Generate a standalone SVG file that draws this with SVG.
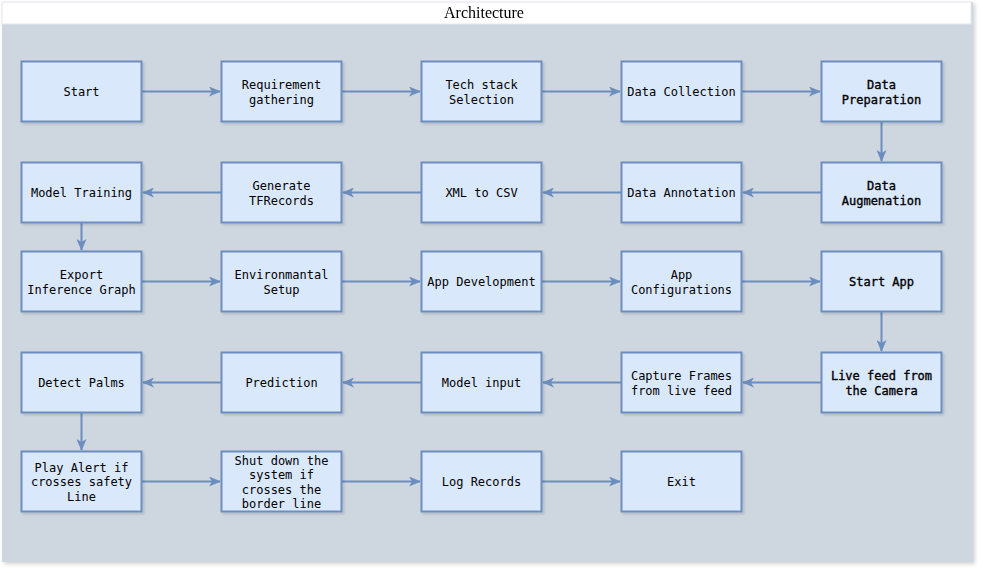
<svg xmlns="http://www.w3.org/2000/svg" width="983" height="573" viewBox="0 0 983 573">
<defs>
<filter id="sh" x="-5%" y="-5%" width="110%" height="110%">
<feGaussianBlur in="SourceAlpha" stdDeviation="2"/>
<feOffset dx="2" dy="2" result="b"/>
<feComponentTransfer><feFuncA type="linear" slope="0.18"/></feComponentTransfer>
<feMerge><feMergeNode/><feMergeNode in="SourceGraphic"/></feMerge>
</filter>
<filter id="bs" x="-10%" y="-10%" width="130%" height="130%">
<feGaussianBlur in="SourceAlpha" stdDeviation="1.2"/>
<feOffset dx="2" dy="2" result="b"/>
<feComponentTransfer><feFuncA type="linear" slope="0.12"/></feComponentTransfer>
<feMerge><feMergeNode/><feMergeNode in="SourceGraphic"/></feMerge>
</filter>
<marker id="ar" viewBox="0 0 12 10" refX="11" refY="5" markerWidth="12" markerHeight="10" markerUnits="userSpaceOnUse" orient="auto">
<path d="M0,0 L12,5 L0,10 L3,5 Z" fill="#6c8ebf"/>
</marker>
</defs>
<style>
.box{fill:#dae8fc;stroke:#6c8ebf;stroke-width:2;filter:url(#bs)}
.t{font-family:"DejaVu Sans Mono","Liberation Mono",monospace;font-size:12px;fill:#000;text-anchor:middle}
.b{stroke:#000;stroke-width:0.35}
.c{fill:none;stroke:#6c8ebf;stroke-width:2;marker-end:url(#ar)}
</style>
<g id="container" filter="url(#sh)">
<rect x="2" y="2" width="971" height="560" fill="#ced6df"/>
<rect x="2" y="2" width="969" height="22" fill="#ffffff" stroke="#e6e6ee" stroke-width="1"/>
<text x="484" y="18" font-family="Liberation Serif, serif" font-size="16" text-anchor="middle" fill="#000">Architecture</text>
</g>
<g id="connectors">
<line class="c" x1="142" y1="91.5" x2="220" y2="91.5"/>
<line class="c" x1="342" y1="91.5" x2="420" y2="91.5"/>
<line class="c" x1="542" y1="91.5" x2="620" y2="91.5"/>
<line class="c" x1="742" y1="91.5" x2="820" y2="91.5"/>
<line class="c" x1="881.5" y1="122" x2="881.5" y2="161"/>
<line class="c" x1="821" y1="192.5" x2="743" y2="192.5"/>
<line class="c" x1="621" y1="192.5" x2="543" y2="192.5"/>
<line class="c" x1="421" y1="192.5" x2="343" y2="192.5"/>
<line class="c" x1="221" y1="192.5" x2="143" y2="192.5"/>
<line class="c" x1="81.5" y1="223" x2="81.5" y2="250"/>
<line class="c" x1="142" y1="281.5" x2="220" y2="281.5"/>
<line class="c" x1="342" y1="281.5" x2="420" y2="281.5"/>
<line class="c" x1="542" y1="281.5" x2="620" y2="281.5"/>
<line class="c" x1="742" y1="281.5" x2="820" y2="281.5"/>
<line class="c" x1="881.5" y1="312" x2="881.5" y2="351"/>
<line class="c" x1="821" y1="382.5" x2="743" y2="382.5"/>
<line class="c" x1="621" y1="382.5" x2="543" y2="382.5"/>
<line class="c" x1="421" y1="382.5" x2="343" y2="382.5"/>
<line class="c" x1="221" y1="382.5" x2="143" y2="382.5"/>
<line class="c" x1="81.5" y1="413" x2="81.5" y2="450"/>
<line class="c" x1="142" y1="481.5" x2="220" y2="481.5"/>
<line class="c" x1="342" y1="481.5" x2="420" y2="481.5"/>
<line class="c" x1="542" y1="481.5" x2="620" y2="481.5"/>
</g>
<g id="n-start"><rect class="box" x="21.5" y="61.5" width="120" height="60"/><text class="t" x="81.5" y="96">Start</text></g>
<g id="n-req"><rect class="box" x="221.5" y="61.5" width="120" height="60"/><text class="t" x="281.5" y="89">Requirement</text><text class="t" x="281.5" y="104">gathering</text></g>
<g id="n-tech"><rect class="box" x="421.5" y="61.5" width="120" height="60"/><text class="t" x="481.5" y="89">Tech stack</text><text class="t" x="481.5" y="104">Selection</text></g>
<g id="n-collect"><rect class="box" x="621.5" y="61.5" width="120" height="60"/><text class="t" x="681.5" y="96">Data Collection</text></g>
<g id="n-prep"><rect class="box" x="821.5" y="61.5" width="120" height="60"/><text class="t b" x="881.5" y="89">Data</text><text class="t b" x="881.5" y="104">Preparation</text></g>
<g id="n-aug"><rect class="box" x="821.5" y="162.5" width="120" height="60"/><text class="t b" x="881.5" y="190">Data</text><text class="t b" x="881.5" y="205">Augmenation</text></g>
<g id="n-annot"><rect class="box" x="621.5" y="162.5" width="120" height="60"/><text class="t" x="681.5" y="197">Data Annotation</text></g>
<g id="n-xml"><rect class="box" x="421.5" y="162.5" width="120" height="60"/><text class="t" x="481.5" y="197">XML to CSV</text></g>
<g id="n-tfr"><rect class="box" x="221.5" y="162.5" width="120" height="60"/><text class="t" x="281.5" y="190">Generate</text><text class="t" x="281.5" y="205">TFRecords</text></g>
<g id="n-train"><rect class="box" x="21.5" y="162.5" width="120" height="60"/><text class="t" x="81.5" y="197">Model Training</text></g>
<g id="n-export"><rect class="box" x="21.5" y="251.5" width="120" height="60"/><text class="t" x="81.5" y="279">Export</text><text class="t" x="81.5" y="294">Inference Graph</text></g>
<g id="n-env"><rect class="box" x="221.5" y="251.5" width="120" height="60"/><text class="t" x="281.5" y="279">Environmantal</text><text class="t" x="281.5" y="294">Setup</text></g>
<g id="n-appdev"><rect class="box" x="421.5" y="251.5" width="120" height="60"/><text class="t" x="481.5" y="286">App Development</text></g>
<g id="n-appconf"><rect class="box" x="621.5" y="251.5" width="120" height="60"/><text class="t" x="681.5" y="279">App</text><text class="t" x="681.5" y="294">Configurations</text></g>
<g id="n-startapp"><rect class="box" x="821.5" y="251.5" width="120" height="60"/><text class="t b" x="881.5" y="286">Start App</text></g>
<g id="n-live"><rect class="box" x="821.5" y="352.5" width="120" height="60"/><text class="t b" x="881.5" y="380">Live feed from</text><text class="t b" x="881.5" y="395">the Camera</text></g>
<g id="n-capture"><rect class="box" x="621.5" y="352.5" width="120" height="60"/><text class="t" x="681.5" y="380">Capture Frames</text><text class="t" x="681.5" y="395">from live feed</text></g>
<g id="n-input"><rect class="box" x="421.5" y="352.5" width="120" height="60"/><text class="t" x="481.5" y="387">Model input</text></g>
<g id="n-pred"><rect class="box" x="221.5" y="352.5" width="120" height="60"/><text class="t" x="281.5" y="387">Prediction</text></g>
<g id="n-detect"><rect class="box" x="21.5" y="352.5" width="120" height="60"/><text class="t" x="81.5" y="387">Detect Palms</text></g>
<g id="n-alert"><rect class="box" x="21.5" y="451.5" width="120" height="60"/><text class="t" x="81.5" y="472">Play Alert if</text><text class="t" x="81.5" y="486">crosses safety</text><text class="t" x="81.5" y="501">Line</text></g>
<g id="n-shut"><rect class="box" x="221.5" y="451.5" width="120" height="60"/><text class="t" x="281.5" y="465">Shut down the</text><text class="t" x="281.5" y="479">system if</text><text class="t" x="281.5" y="494">crosses the</text><text class="t" x="281.5" y="508">border line</text></g>
<g id="n-log"><rect class="box" x="421.5" y="451.5" width="120" height="60"/><text class="t" x="481.5" y="486">Log Records</text></g>
<g id="n-exit"><rect class="box" x="621.5" y="451.5" width="120" height="60"/><text class="t" x="681.5" y="486">Exit</text></g>
</svg>
